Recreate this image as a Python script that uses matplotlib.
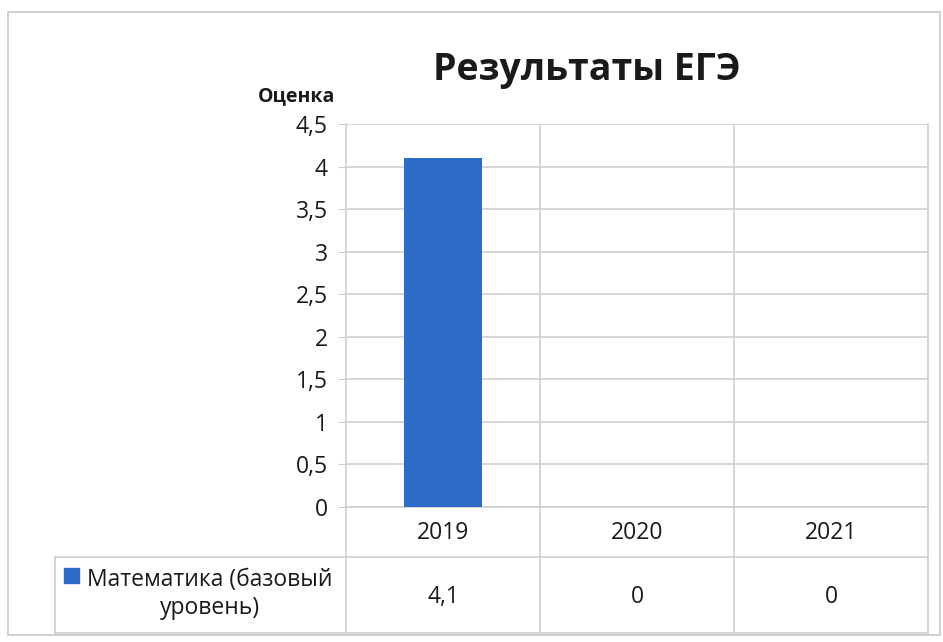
import matplotlib
matplotlib.use("Agg")
import matplotlib.pyplot as plt
from matplotlib.lines import Line2D
from matplotlib.patches import Rectangle

# data
years = ["2019", "2020", "2021"]
scores = [4.1, 0, 0]
series_name = "Математика (базовый\nуровень)"
title = "Результаты ЕГЭ"
y_label = "Оценка"
y_ticks = [0, 0.5, 1, 1.5, 2, 2.5, 3, 3.5, 4, 4.5]

plt.rcParams['font.family'] = ['Open Sans', 'DejaVu Sans']

W, H = 943, 642
fig = plt.figure(figsize=(W / 100, H / 100), dpi=100)
bar_color = "#2E6BC6"
grid_color = "#cfcfcf"
txt_color = "#1a1a1a"

def fx(px):
    return px / W

def fy(py):
    return 1 - py / H

# outer chart border
fig.add_artist(Rectangle((fx(8), fy(635)), fx(940) - fx(8), fy(12) - fy(635),
                         transform=fig.transFigure, fill=False, edgecolor="#c8c8c8", lw=1.2))

# plot area
left, right, top, bottom = 346, 928, 124, 507
ax = fig.add_axes([fx(left), fy(bottom), fx(right) - fx(left), fy(top) - fy(bottom)])
x = list(range(len(years)))
ax.bar(x, scores, width=0.4, color=bar_color, zorder=3)
ax.set_xlim(-0.5, len(years) - 0.5)
ax.set_ylim(0, 4.5)
ax.set_yticks(y_ticks)
ax.set_yticklabels([("%g" % t).replace(".", ",") for t in y_ticks])
ax.set_xticks([])
ax.grid(axis="y", color=grid_color, lw=1.2, zorder=0)
for b in [0.5, 1.5]:
    ax.axvline(b, color=grid_color, lw=1.2, zorder=0)
for s in ax.spines.values():
    s.set_color(grid_color)
    s.set_linewidth(1.2)
ax.spines["top"].set_visible(False)
ax.tick_params(axis="y", length=6, color=grid_color, labelsize=16.5, pad=7, labelcolor=txt_color)

fig.text(fx(587), fy(70), title, ha="center", va="center", fontsize=27, fontweight="bold", color=txt_color)
fig.text(fx(297), fy(96), y_label, ha="center", va="center", fontsize=14, fontweight="bold", color=txt_color)

# data table below the axis
col_edges = [left + (right - left) * i / len(years) for i in range(len(years) + 1)]
tbl_left, row_mid, tbl_bottom = 55, 557, 633
lines = []
for cx in col_edges:
    lines.append(((cx, cx), (bottom, tbl_bottom)))
lines.append(((tbl_left, right), (row_mid, row_mid)))
lines.append(((tbl_left, right), (tbl_bottom, tbl_bottom)))
lines.append(((tbl_left, tbl_left), (row_mid, tbl_bottom)))
for xs, ys in lines:
    fig.add_artist(Line2D([fx(v) for v in xs], [fy(v) for v in ys], transform=fig.transFigure,
                          color=grid_color, lw=1.2))

for i, yr in enumerate(years):
    cx = (col_edges[i] + col_edges[i + 1]) / 2
    fig.text(fx(cx), fy(533), yr, ha="center", va="center", fontsize=16.5, color=txt_color)
    fig.text(fx(cx), fy(597), ("%g" % scores[i]).replace(".", ","), ha="center", va="center",
             fontsize=16.5, color=txt_color)

fig.add_artist(Rectangle((fx(64), fy(583)), fx(15), fy(568) - fy(583), transform=fig.transFigure,
                         color=bar_color))
fig.text(fx(210), fy(594), series_name, ha="center", va="center", fontsize=16.5, color=txt_color,
         linespacing=1.2)

fig.savefig("out.png", dpi=100)
